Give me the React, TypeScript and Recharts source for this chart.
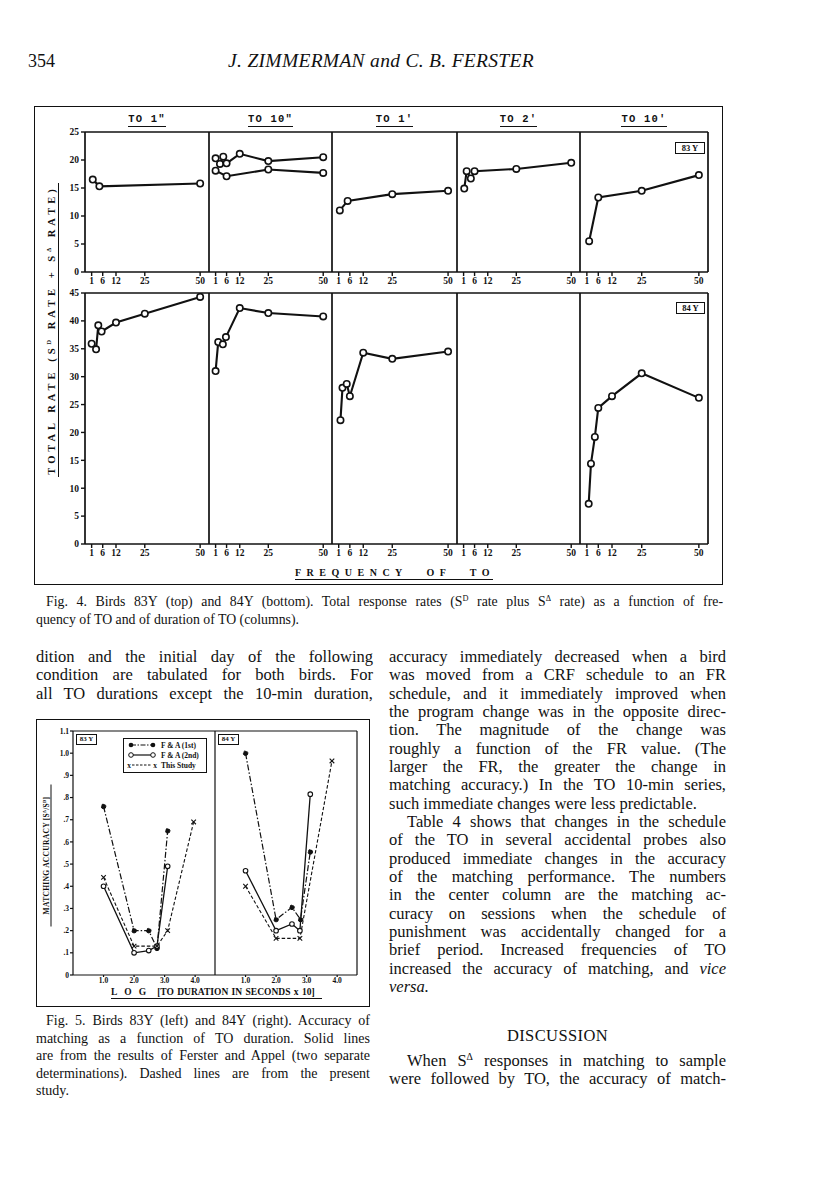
import React from "react";
import { LineChart, Line, XAxis, YAxis } from "recharts";

// ---- Fig. 4: total rate vs frequency of TO ----
const freqTicks = [1, 6, 12, 25, 50];
const topRateTicks = [0, 5, 10, 15, 20, 25];
const bottomRateTicks = [0, 5, 10, 15, 20, 25, 30, 35, 40, 45];
const durationLabels = ['TO 1"', 'TO 10"', "TO 1'", "TO 2'", "TO 10'"];
const birdLabels = ["83 Y", "84 Y"];

// bird 83Y
const to1s83Freq = [1.5, 4.5, 50];
const to1s83Rate = [16.5, 15.3, 15.8];
const to10sA83Freq = [1, 3, 4.5, 6, 12, 25, 50];
const to10sA83Rate = [20.3, 19.3, 20.6, 19.4, 21.1, 19.8, 20.5];
const to10sB83Freq = [1, 6, 25, 50];
const to10sB83Rate = [18.1, 17.1, 18.3, 17.7];
const to1m83Freq = [1.5, 5, 25, 50];
const to1m83Rate = [11.0, 12.7, 13.9, 14.5];
const to2m83Freq = [1.3, 2.4, 4.3, 6, 25, 50];
const to2m83Rate = [14.9, 18.0, 16.7, 18.0, 18.4, 19.5];
const to10m83Freq = [2, 6, 25, 50];
const to10m83Rate = [5.5, 13.3, 14.5, 17.3];

// bird 84Y
const to1s84Freq = [1, 3, 4, 5.5, 12, 25, 50];
const to1s84Rate = [35.9, 34.9, 39.2, 38.1, 39.7, 41.3, 44.3];
const to10s84Freq = [1, 2.2, 4.3, 5.7, 12, 25, 50];
const to10s84Rate = [31.0, 36.2, 35.8, 37.1, 42.3, 41.4, 40.8];
const to1m84Freq = [1.8, 2.7, 4.6, 6, 12, 25, 50];
const to1m84Rate = [22.2, 28.0, 28.7, 26.5, 34.3, 33.2, 34.5];
const to10m84Freq = [1.8, 2.8, 4.5, 6, 12, 25, 50];
const to10m84Rate = [7.2, 14.4, 19.2, 24.4, 26.5, 30.6, 26.2];

// ---- Fig. 5: matching accuracy vs log TO duration ----
const accTicks = [0, 0.1, 0.2, 0.3, 0.4, 0.5, 0.6, 0.7, 0.8, 0.9, 1.0, 1.1];
const logTicks = [1, 2, 3, 4];

const fa1st83Log = [1.0, 2.0, 2.48, 2.75, 3.1];
const fa1st83Acc = [0.76, 0.2, 0.2, 0.12, 0.65];
const fa2nd83Log = [1.0, 2.0, 2.48, 2.75, 3.1];
const fa2nd83Acc = [0.4, 0.1, 0.11, 0.13, 0.49];
const study83Log = [1.0, 2.0, 2.75, 3.1, 3.95];
const study83Acc = [0.44, 0.13, 0.13, 0.2, 0.69];

const fa1st84Log = [1.0, 2.0, 2.52, 2.8, 3.12];
const fa1st84Acc = [1.0, 0.25, 0.305, 0.25, 0.555];
const fa2nd84Log = [1.0, 2.0, 2.52, 2.78, 3.12];
const fa2nd84Acc = [0.47, 0.2, 0.23, 0.2, 0.815];
const study84Log = [1.0, 2.0, 2.78, 3.83];
const study84Acc = [0.4, 0.165, 0.165, 0.965];

const legendLabels = ["F & A (1st)", "F & A (2nd)", "This Study"];

const ink = "#111";
const serif = '"Liberation Serif", "Times New Roman", serif';

const pts = (xs: number[], ys: number[]) => xs.map((x, i) => ({ x, y: ys[i] }));

const fig4Rows = [
  [
    [pts(to1s83Freq, to1s83Rate)],
    [pts(to10sA83Freq, to10sA83Rate), pts(to10sB83Freq, to10sB83Rate)],
    [pts(to1m83Freq, to1m83Rate)],
    [pts(to2m83Freq, to2m83Rate)],
    [pts(to10m83Freq, to10m83Rate)],
  ],
  [
    [pts(to1s84Freq, to1s84Rate)],
    [pts(to10s84Freq, to10s84Rate)],
    [pts(to1m84Freq, to1m84Rate)],
    [],
    [pts(to10m84Freq, to10m84Rate)],
  ],
];

const PANEL_X = [85, 209, 332, 457, 580, 708];
const ROW_Y = [
  [132, 272],
  [293, 544],
];
const FREQ_DOMAIN: [number, number] = [-2, 54];

const axisLine = { stroke: ink, strokeWidth: 1.7 };
const tickLine = { stroke: ink, strokeWidth: 1.4 };
const tickFont = { fontSize: 9.5, fontWeight: 700, fill: ink, fontFamily: serif };

function RatePanel({ row, col, series }: { row: number; col: number; series: { x: number; y: number }[][] }) {
  const x0 = PANEL_X[col];
  const x1 = PANEL_X[col + 1];
  const [y0, y1] = ROW_Y[row];
  const first = col === 0;
  const last = col === 4;
  const yMax = row === 0 ? 25 : 45;
  const yTicks = row === 0 ? topRateTicks : bottomRateTicks;
  const padL = first ? 30 : 5;
  const padR = 6;
  const padT = 6;
  const axisH = 16;
  const w = padL + (x1 - x0) + padR;
  const h = padT + (y1 - y0) + axisH;
  return (
    <div style={{ position: "absolute", left: x0 - padL, top: y0 - padT }}>
      <LineChart width={w} height={h} margin={{ top: padT, right: padR, bottom: 0, left: first ? 0 : padL }}>
        <XAxis
          xAxisId="b"
          type="number"
          dataKey="x"
          domain={FREQ_DOMAIN}
          allowDataOverflow
          ticks={freqTicks}
          interval={0}
          height={axisH}
          tickSize={4}
          tickMargin={1}
          axisLine={axisLine}
          tickLine={tickLine}
          tick={tickFont}
        />
        <XAxis xAxisId="bi" type="number" domain={FREQ_DOMAIN} allowDataOverflow ticks={freqTicks} interval={0} mirror tickSize={3} axisLine={false} tickLine={tickLine} tick={false} />
        <XAxis
          xAxisId="t"
          orientation="top"
          type="number"
          domain={FREQ_DOMAIN}
          allowDataOverflow
          ticks={freqTicks}
          interval={0}
          mirror
          tickSize={5}
          axisLine={axisLine}
          tickLine={tickLine}
          tick={false}
        />
        {first ? (
          <YAxis
            yAxisId="l"
            type="number"
            domain={[0, yMax]}
            allowDataOverflow
            ticks={yTicks}
            interval={0}
            width={30}
            tickSize={4}
            tickMargin={2}
            axisLine={axisLine}
            tickLine={tickLine}
            tick={tickFont}
          />
        ) : (
          <YAxis yAxisId="l" type="number" domain={[0, yMax]} allowDataOverflow mirror axisLine={axisLine} tickLine={false} tick={false} />
        )}
        {first && (
          <YAxis yAxisId="li" type="number" domain={[0, yMax]} allowDataOverflow ticks={yTicks} interval={0} mirror tickSize={3} axisLine={false} tickLine={tickLine} tick={false} />
        )}
        {last && (
          <YAxis
            yAxisId="r"
            orientation="right"
            type="number"
            domain={[0, yMax]}
            allowDataOverflow
            ticks={yTicks.slice(1, -1)}
            interval={0}
            mirror
            tickSize={5}
            axisLine={axisLine}
            tickLine={tickLine}
            tick={false}
          />
        )}
        {series.map((s, i) => (
          <Line
            key={i}
            xAxisId="b"
            yAxisId="l"
            data={s}
            dataKey="y"
            type="linear"
            stroke={ink}
            strokeWidth={2.1}
            dot={{ r: 3.2, fill: "#fff", stroke: ink, strokeWidth: 1.6 }}
            isAnimationActive={false}
          />
        ))}
      </LineChart>
    </div>
  );
}

const CrossDot = (props: any) => {
  const { cx, cy } = props;
  if (cx == null || cy == null) return <g />;
  const d = 2.3;
  return (
    <path
      d={`M${cx - d},${cy - d}L${cx + d},${cy + d}M${cx - d},${cy + d}L${cx + d},${cy - d}`}
      stroke={ink}
      strokeWidth={1.1}
      fill="none"
    />
  );
};

const fmtAcc = (v: number) => (v === 0 ? "0" : v >= 1 ? v.toFixed(1) : "." + Math.round(v * 10));

function AccuracyPanel({ side, fa1, fa2, study }: { side: number; fa1: any[]; fa2: any[]; study: any[] }) {
  const x0 = side === 0 ? 73 : 215;
  const x1 = side === 0 ? 215 : 357;
  const y0 = 731;
  const y1 = 975;
  const padL = side === 0 ? 22 : 4;
  const padR = 4;
  const padT = 4;
  const axisH = 12;
  const w = padL + (x1 - x0) + padR;
  const h = padT + (y1 - y0) + axisH;
  const thin = { stroke: ink, strokeWidth: 1.2 };
  const smallFont = { fontSize: 7.5, fontWeight: 700, fill: ink, fontFamily: serif };
  return (
    <div style={{ position: "absolute", left: x0 - padL, top: y0 - padT }}>
      <LineChart width={w} height={h} margin={{ top: padT, right: padR, bottom: 0, left: side === 0 ? 0 : padL }}>
        <XAxis
          xAxisId="b"
          type="number"
          dataKey="x"
          domain={[0, 4.65]}
          allowDataOverflow
          ticks={logTicks}
          interval={0}
          height={axisH}
          tickSize={2}
          tickMargin={1}
          tickFormatter={(v: number) => v.toFixed(1)}
          axisLine={thin}
          tickLine={thin}
          tick={smallFont}
        />
        <XAxis xAxisId="t" orientation="top" type="number" domain={[0, 4.65]} allowDataOverflow ticks={logTicks} interval={0} mirror tickSize={4} axisLine={thin} tickLine={thin} tick={false} />
        {side === 0 ? (
          <YAxis
            yAxisId="l"
            type="number"
            domain={[0, 1.1]}
            allowDataOverflow
            ticks={accTicks}
            interval={0}
            width={22}
            tickSize={3}
            tickMargin={1}
            tickFormatter={fmtAcc}
            axisLine={thin}
            tickLine={thin}
            tick={smallFont}
          />
        ) : (
          <YAxis yAxisId="l" type="number" domain={[0, 1.1]} allowDataOverflow mirror axisLine={thin} tickLine={false} tick={false} />
        )}
        {side === 1 && (
          <YAxis yAxisId="r" orientation="right" type="number" domain={[0, 1.1]} allowDataOverflow mirror axisLine={thin} tickLine={false} tick={false} />
        )}
        <Line xAxisId="b" yAxisId="l" data={fa1} dataKey="y" type="linear" stroke={ink} strokeWidth={1.2} strokeDasharray="6 2 1.5 2" dot={{ r: 2.3, fill: ink, stroke: ink, strokeWidth: 1 }} isAnimationActive={false} />
        <Line xAxisId="b" yAxisId="l" data={fa2} dataKey="y" type="linear" stroke={ink} strokeWidth={1.3} dot={{ r: 2.3, fill: "#fff", stroke: ink, strokeWidth: 1.1 }} isAnimationActive={false} />
        <Line xAxisId="b" yAxisId="l" data={study} dataKey="y" type="linear" stroke={ink} strokeWidth={1.1} strokeDasharray="3.5 2" dot={<CrossDot />} isAnimationActive={false} />
      </LineChart>
    </div>
  );
}

type TextLine = { t: React.ReactNode; j?: boolean; indent?: number };

function TextBlock({ lines, left, top, width, size, lead }: { lines: TextLine[]; left: number; top: number; width: number; size: number; lead: number }) {
  return (
    <div style={{ position: "absolute", left, top, width, fontFamily: serif, fontSize: size, lineHeight: `${lead}px`, color: ink }}>
      {lines.map((ln, i) => (
        <div
          key={i}
          style={{
            height: lead,
            whiteSpace: "nowrap",
            textAlign: ln.j ? "justify" : "left",
            textAlignLast: ln.j ? "justify" : "left",
            paddingLeft: ln.indent || 0,
          }}
        >
          {ln.t}
        </div>
      ))}
    </div>
  );
}

const sup = (s: string) => <sup style={{ fontSize: "0.6em", verticalAlign: "0.6em", lineHeight: 0 }}>{s}</sup>;

const leftColLines: TextLine[] = [
  { t: "dition and the initial day of the following", j: true },
  { t: "condition are tabulated for both birds. For", j: true },
  { t: "all TO durations except the 10-min duration,", j: true },
];

const rightColLines: TextLine[] = [
  { t: "accuracy immediately decreased when a bird", j: true },
  { t: "was moved from a CRF schedule to an FR", j: true },
  { t: "schedule, and it immediately improved when", j: true },
  { t: "the program change was in the opposite direc-", j: true },
  { t: "tion. The magnitude of the change was", j: true },
  { t: "roughly a function of the FR value. (The", j: true },
  { t: "larger the FR, the greater the change in", j: true },
  { t: "matching accuracy.) In the TO 10-min series,", j: true },
  { t: "such immediate changes were less predictable." },
  { t: "Table 4 shows that changes in the schedule", j: true, indent: 18 },
  { t: "of the TO in several accidental probes also", j: true },
  { t: "produced immediate changes in the accuracy", j: true },
  { t: "of the matching performance. The numbers", j: true },
  { t: "in the center column are the matching ac-", j: true },
  { t: "curacy on sessions when the schedule of", j: true },
  { t: "punishment was accidentally changed for a", j: true },
  { t: "brief period. Increased frequencies of TO", j: true },
  { t: <>increased the accuracy of matching, and <i>vice</i></>, j: true },
  { t: <i>versa.</i> },
];

const discussionLines: TextLine[] = [
  { t: <>When S{sup("\u0394")} responses in matching to sample</>, j: true, indent: 18 },
  { t: "were followed by TO, the accuracy of match-", j: true },
];

const fig4Caption: TextLine[] = [
  {
    t: (
      <>
        Fig. 4. Birds 83Y (top) and 84Y (bottom). Total response rates (S{sup("D")} rate plus S{sup("\u0394")} rate) as a function of fre-
      </>
    ),
    j: true,
    indent: 10,
  },
  { t: "quency of TO and of duration of TO (columns)." },
];

const fig5Caption: TextLine[] = [
  { t: "Fig. 5. Birds 83Y (left) and 84Y (right). Accuracy of", j: true, indent: 10 },
  { t: "matching as a function of TO duration. Solid lines", j: true },
  { t: "are from the results of Ferster and Appel (two separate", j: true },
  { t: "determinations). Dashed lines are from the present", j: true },
  { t: "study." },
];

function Rotated({ cx, cy, w, h, style, children }: any) {
  return (
    <div
      style={{
        position: "absolute",
        left: cx - w / 2,
        top: cy - h / 2,
        width: w,
        height: h,
        transform: "rotate(-90deg)",
        transformOrigin: "50% 50%",
        textAlign: "center",
        whiteSpace: "nowrap",
        ...style,
      }}
    >
      {children}
    </div>
  );
}

function Fig5Legend() {
  const rowY = [7, 17, 27];
  const f = { fontSize: 7.5, fontWeight: 700, fontFamily: serif, fill: ink };
  return (
    <div style={{ position: "absolute", left: 123, top: 738, width: 84, height: 35, border: `1.2px solid ${ink}`, boxSizing: "border-box", background: "#fff" }}>
      <svg width={84} height={35} style={{ position: "absolute", left: -1, top: -1 }}>
        <line x1={8} y1={rowY[0]} x2={30} y2={rowY[0]} stroke={ink} strokeWidth={1.1} strokeDasharray="5 1.5 1.5 1.5" />
        <circle cx={8} cy={rowY[0]} r={2.3} fill={ink} />
        <circle cx={30} cy={rowY[0]} r={2.3} fill={ink} />
        <line x1={8} y1={rowY[1]} x2={30} y2={rowY[1]} stroke={ink} strokeWidth={1.2} />
        <circle cx={8} cy={rowY[1]} r={2.3} fill="#fff" stroke={ink} strokeWidth={1} />
        <circle cx={30} cy={rowY[1]} r={2.3} fill="#fff" stroke={ink} strokeWidth={1} />
        <line x1={9} y1={rowY[2]} x2={29} y2={rowY[2]} stroke={ink} strokeWidth={1} strokeDasharray="2.5 1.5" />
        <text x={6} y={rowY[2] + 2.5} {...f} textAnchor="middle">x</text>
        <text x={32} y={rowY[2] + 2.5} {...f} textAnchor="middle">x</text>
        {legendLabels.map((lab, i) => (
          <text key={lab} x={38} y={rowY[i] + 2.7} {...f}>
            {lab}
          </text>
        ))}
      </svg>
    </div>
  );
}

const tagStyle: React.CSSProperties = {
  position: "absolute",
  border: `1.3px solid ${ink}`,
  fontFamily: serif,
  fontWeight: 700,
  color: ink,
  textAlign: "center",
  boxSizing: "border-box",
  background: "#fff",
};

export default function App() {
  return (
    <div style={{ position: "absolute", left: 0, top: 0, width: 816, height: 1188, background: "#fff", overflow: "hidden", fontFamily: serif, color: ink }}>
      {/* running head */}
      <div style={{ position: "absolute", left: 28, top: 51, fontSize: 18, lineHeight: "20px" }}>354</div>
      <div style={{ position: "absolute", left: 36, top: 50, width: 690, textAlign: "center", fontSize: 19.5, lineHeight: "22px", fontStyle: "italic", letterSpacing: 0.3 }}>
        J. ZIMMERMAN and C. B. FERSTER
      </div>

      {/* Fig. 4 frame */}
      <div style={{ position: "absolute", left: 34, top: 106, width: 689, height: 479, border: `1.5px solid ${ink}`, boxSizing: "border-box" }} />
      {durationLabels.map((lab, i) => (
        <div
          key={lab}
          style={{
            position: "absolute",
            left: (PANEL_X[i] + PANEL_X[i + 1]) / 2 - 30,
            width: 60,
            top: 113,
            textAlign: "center",
            fontFamily: '"Liberation Mono", monospace',
            fontWeight: 700,
            fontSize: 10.5,
            lineHeight: "12px",
            letterSpacing: 1.2,
          }}
        >
          <span style={{ borderBottom: `1.5px solid ${ink}`, paddingBottom: 1 }}>{lab}</span>
        </div>
      ))}
      {fig4Rows.map((row, r) =>
        row.map((series, c) => <RatePanel key={`${r}-${c}`} row={r} col={c} series={series} />)
      )}
      <div style={{ ...tagStyle, left: 675, top: 142, width: 30, height: 12, fontSize: 8.5, lineHeight: "10px" }}>{birdLabels[0]}</div>
      <div style={{ ...tagStyle, left: 676, top: 302, width: 29, height: 12, fontSize: 8.5, lineHeight: "10px" }}>{birdLabels[1]}</div>
      <Rotated cx={52} cy={330} w={294} h={14} style={{ fontSize: 10.5, fontWeight: 700, letterSpacing: 4, lineHeight: "14px", borderBottom: `1.5px solid ${ink}`, boxSizing: "border-box" }}>
        TOTAL RATE (S{sup("D")} RATE + S{sup("\u0394")} RATE)
      </Rotated>
      <div
        style={{
          position: "absolute",
          left: 295,
          top: 566,
          width: 198,
          height: 13,
          fontSize: 10,
          fontWeight: 700,
          lineHeight: "13px",
          letterSpacing: 5.5,
          wordSpacing: 11,
          whiteSpace: "nowrap",
          borderBottom: `1.5px solid ${ink}`,
          boxSizing: "content-box",
        }}
      >
        FREQUENCY OF TO
      </div>

      <TextBlock lines={fig4Caption} left={36} top={593} width={687} size={13.8} lead={18} />
      <TextBlock lines={leftColLines} left={36} top={648} width={337} size={16.5} lead={18.33} />
      <TextBlock lines={rightColLines} left={389} top={648} width={337} size={16.5} lead={18.33} />

      {/* Fig. 5 frame */}
      <div style={{ position: "absolute", left: 36, top: 719, width: 334, height: 288, border: `1.5px solid ${ink}`, boxSizing: "border-box" }} />
      <AccuracyPanel side={0} fa1={pts(fa1st83Log, fa1st83Acc)} fa2={pts(fa2nd83Log, fa2nd83Acc)} study={pts(study83Log, study83Acc)} />
      <AccuracyPanel side={1} fa1={pts(fa1st84Log, fa1st84Acc)} fa2={pts(fa2nd84Log, fa2nd84Acc)} study={pts(study84Log, study84Acc)} />
      <Fig5Legend />
      <div style={{ ...tagStyle, left: 76, top: 734, width: 21, height: 11, fontSize: 7, lineHeight: "9px" }}>{birdLabels[0]}</div>
      <div style={{ ...tagStyle, left: 218, top: 734, width: 21, height: 11, fontSize: 7, lineHeight: "9px" }}>{birdLabels[1]}</div>
      <Rotated cx={46} cy={855} w={142} h={11} style={{ fontSize: 7.5, fontWeight: 700, letterSpacing: 0.3, lineHeight: "11px", borderBottom: `1.2px solid ${ink}`, boxSizing: "border-box" }}>
        MATCHING ACCURACY [S{sup("\u0394")}/S{sup("D")}]
      </Rotated>
      <div
        style={{
          position: "absolute",
          left: 111,
          top: 987,
          width: 211,
          height: 11,
          fontSize: 9.5,
          fontWeight: 700,
          lineHeight: "11px",
          whiteSpace: "nowrap",
          borderBottom: `1.2px solid ${ink}`,
        }}
      >
        <span style={{ letterSpacing: 7 }}>LOG</span>
        <span style={{ marginLeft: 4, wordSpacing: 1 }}>[TO DURATION IN SECONDS x 10]</span>
      </div>

      <TextBlock lines={fig5Caption} left={36} top={1012} width={334} size={14} lead={17.6} />

      <div style={{ position: "absolute", left: 389, top: 1026, width: 337, textAlign: "center", fontSize: 16.5, lineHeight: "20px", letterSpacing: 0.4 }}>
        DISCUSSION
      </div>
      <TextBlock lines={discussionLines} left={389} top={1052} width={337} size={16.5} lead={18.33} />
    </div>
  );
}
